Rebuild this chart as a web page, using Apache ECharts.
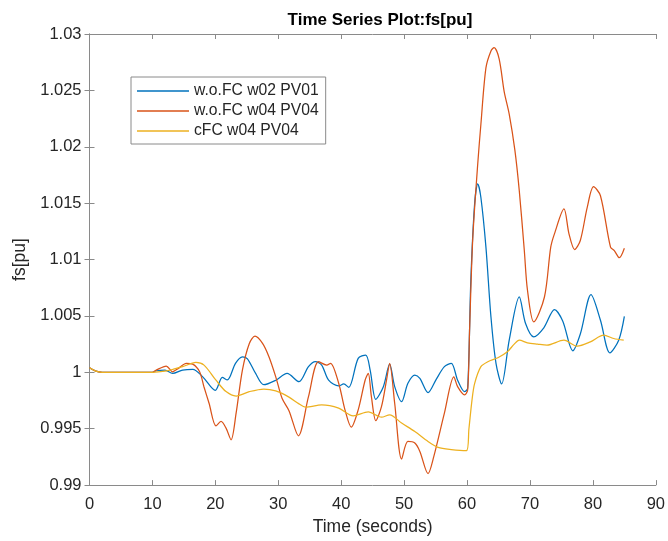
<!DOCTYPE html>
<html>
<head>
<meta charset="utf-8">
<script src="https://cdn.jsdelivr.net/npm/echarts@6/dist/echarts.min.js"></script>
<style>
  html, body { margin: 0; padding: 0; background: #fff; }
  #chart { width: 668px; height: 541px; }
</style>
</head>
<body>
<div id="chart"></div>
<script>
// Frequency traces [time s, fs pu]
const woFcW02Pv01 = [
  [0,1.0004],[1,1.0001],[2,1.0],[10,1.0],[10.6,1.00014],[12,1.0002],[13.2,0.9999],[14.8,1.0002],
  [16.4,1.00027],[18,0.9996],[20,0.9984],[21.1,0.99956],[21.9,0.99932],[23.2,1.0008],[24.3,1.00138],
  [25.1,1.0012],[26.4,0.9999],[27.7,0.9989],[29.6,0.9993],[31.4,0.9999],[33.3,0.99917],[34.8,1.0005],
  [35.9,1.00094],[36.9,1.00064],[38,0.9993],[39.6,0.99879],[40.4,0.99897],[41.2,0.99867],[42.7,1.00124],
  [43.9,1.00153],[44.6,1.0002],[45.5,0.99761],[46.7,0.99873],[47.7,1.00073],[48.5,0.99873],[49.6,0.9974],
  [50.6,0.99903],[51.7,0.99976],[52.5,0.99947],[53.8,0.9982],[55.1,0.99938],[56.4,1.0005],[57.5,1.0008],
  [58.5,0.9993],[59.6,0.99829],[60.1,0.99859],[60.6,1.00815],[61.2,1.01493],[61.7,1.0167],[62.2,1.0155],
  [63,1.0111],[63.8,1.0049],[64.6,1.0008],[65.5,0.99897],[66.7,1.00285],[68.3,1.00668],[69.3,1.00433],
  [70.6,1.00314],[72.2,1.00395],[73.9,1.00556],[75.2,1.00455],[76.8,1.00191],[78,1.0034],[79.7,1.00689],
  [81.2,1.00462],[82.7,1.00173],[84.1,1.00285],[85,1.00497]
];
const woFcW04Pv04 = [
  [0,1.0004],[1,1.0001],[2,1.0],[10,1.0],[10.6,1.0002],[12.2,1.00056],[13.2,1.00005],[14,1.0003],
  [15.4,1.0008],[16.4,1.00073],[17.5,1.00005],[18.2,0.9987],[19,0.99726],[20.1,0.99526],[20.9,0.99564],
  [21.7,0.99505],[22.5,0.99402],[23.3,0.99638],[24.3,1.0002],[25.4,1.00256],[26.3,1.0032],[27.5,1.00256],
  [28.5,1.0014],[29.6,0.9996],[30.6,0.9977],[31.7,0.9966],[33.2,0.99437],[34.8,0.99784],[36.4,1.00094],
  [37.7,1.00064],[38.3,1.0008],[39.6,0.99903],[40.6,0.99667],[41.6,0.99514],[42.7,0.99667],[43.8,0.9993],
  [44.3,0.9999],[44.8,0.99784],[45.5,0.99572],[46.4,0.99696],[47.2,0.9993],[47.7,1.0008],[48.5,0.99726],
  [49.6,0.99231],[50.6,0.99387],[51.7,0.99373],[52.5,0.99299],[53.8,0.99102],[54.7,0.9925],[56.4,0.99638],
  [57.9,0.9996],[58.5,0.99873],[59.6,0.998],[60.1,0.99844],[60.4,1.0037],[60.9,1.0118],[61.7,1.0185],
  [62.2,1.022],[63,1.027],[63.8,1.0285],[64.3,1.0288],[65.1,1.0278],[65.9,1.0249],[66.7,1.0229],
  [67.6,1.0197],[68.3,1.0161],[69.1,1.0108],[69.6,1.0073],[70.6,1.00447],[72.3,1.00668],[73.3,1.0111],
  [73.9,1.0123],[75.4,1.01449],[76.2,1.01228],[77.1,1.01089],[78,1.01169],[79.1,1.01463],[80.1,1.01646],
  [81.2,1.01566],[82.8,1.0111],[83.4,1.0108],[84.2,1.01016],[85,1.011]
];
const cFcW04Pv04 = [
  [0,1.0004],[1,1.0001],[2,1.0],[10,1.0],[12,1.0001],[13.5,1.0003],[14.8,1.0005],[16.9,1.00088],
  [18.2,1.00064],[20.1,0.9993],[21.7,0.99829],[23.3,0.9979],[25.4,0.99829],[27.7,0.99852],[29.6,0.99835],
  [31.7,0.9978],[33.3,0.9972],[34.3,0.99691],[36.9,0.99711],[39.6,0.99682],[41.9,0.99614],[44.3,0.99649],
  [46.4,0.99602],[47.7,0.99623],[49.6,0.9955],[51.7,0.99475],[53.8,0.99387],[55.4,0.99335],[57.5,0.99315],
  [59.9,0.99305],[60.3,0.9950],[60.8,0.9976],[61.2,0.9990],[62.2,1.0005],[63.3,1.00094],[64.9,1.00129],
  [66.4,1.00182],[67.5,1.0025],[68.3,1.00285],[69.6,1.00262],[71.2,1.0025],[72.7,1.00241],[75.4,1.00285],
  [77.5,1.00232],[79.6,1.0027],[81.7,1.0033],[83.3,1.003],[84.9,1.00285]
];
const seriesNames = ['w.o.FC w02 PV01', 'w.o.FC w04 PV04', 'cFC w04 PV04'];
const seriesColors = ['#0072BD', '#D95319', '#EDB120'];

const FONT = '"Liberation Sans", Arial, Helvetica, sans-serif';
const AXIS_LINE = '#8a8a8a';
const LABEL = '#262626';

const chart = echarts.init(document.getElementById('chart'), null, { renderer: 'canvas' });

function lineSeries(name, data, color) {
  return {
    name, type: 'line', data, color,
    showSymbol: false, smooth: 0.3,
    lineStyle: { width: 1.25, color },
    emphasis: { disabled: true }, animation: false
  };
}

const xCommon = {
  type: 'value', min: 0, max: 90, interval: 10,
  axisLine: { show: true, lineStyle: { color: AXIS_LINE, width: 1 } },
  axisTick: { show: true, inside: true, length: 5, lineStyle: { color: AXIS_LINE } },
  splitLine: { show: false }
};
const yCommon = {
  type: 'value', min: 0.99, max: 1.03, interval: 0.005,
  axisLine: { show: true, lineStyle: { color: AXIS_LINE, width: 1 } },
  axisTick: { show: true, inside: true, length: 5, lineStyle: { color: AXIS_LINE } },
  splitLine: { show: false }
};

chart.setOption({
  backgroundColor: '#fff',
  animation: false,
  title: {
    text: 'Time Series Plot:fs[pu]',
    left: 375, top: 7, textAlign: 'center',
    textStyle: { fontFamily: FONT, fontSize: 17, fontWeight: 'bold', color: '#000' }
  },
  grid: { left: 89.5, right: 9, top: 34, bottom: 55, containLabel: false },
  legend: {
    data: seriesNames,
    orient: 'vertical', left: 131, top: 77,
    padding: [4, 7, 3, 6],
    itemGap: 0, itemWidth: 52, itemHeight: 1.5,
    icon: 'rect',
    backgroundColor: '#fff', borderColor: '#8a8a8a', borderWidth: 1,
    textStyle: { fontFamily: FONT, fontSize: 15.7, color: LABEL, lineHeight: 20 }
  },
  xAxis: [
    Object.assign({}, xCommon, {
      position: 'bottom',
      name: 'Time (seconds)', nameLocation: 'middle', nameGap: 31,
      nameTextStyle: { fontFamily: FONT, fontSize: 17.5, color: LABEL },
      axisLabel: { fontFamily: FONT, fontSize: 16.5, color: LABEL, margin: 11 }
    }),
    Object.assign({}, xCommon, { position: 'top', axisLabel: { show: false } })
  ],
  yAxis: [
    Object.assign({}, yCommon, {
      position: 'left',
      name: 'fs[pu]', nameLocation: 'middle', nameGap: 57,
      nameTextStyle: { fontFamily: FONT, fontSize: 17.5, color: LABEL },
      axisLabel: {
        fontFamily: FONT, fontSize: 16.5, color: LABEL, margin: 8,
        formatter: v => String(+v.toFixed(3))
      }
    }),
    Object.assign({}, yCommon, { position: 'right', axisLabel: { show: false } })
  ],
  series: [
    lineSeries(seriesNames[0], woFcW02Pv01, seriesColors[0]),
    lineSeries(seriesNames[1], woFcW04Pv04, seriesColors[1]),
    lineSeries(seriesNames[2], cFcW04Pv04, seriesColors[2])
  ]
});
</script>
</body>
</html>
